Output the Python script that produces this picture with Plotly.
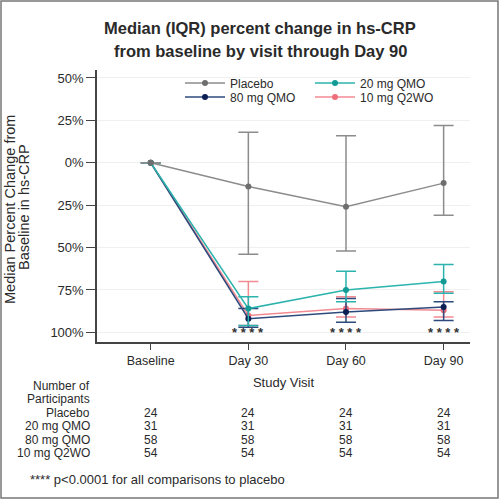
import plotly.graph_objects as go

# visits and groups
visits = ["Baseline", "Day 30", "Day 60", "Day 90"]
groups = ["Placebo", "20 mg QMO", "80 mg QMO", "10 mg Q2WO"]

# median % change in hs-CRP, and the IQR ends
median = {
    "Placebo":    [0, -14, -26, -12],
    "20 mg QMO":  [0, -86, -75, -70],
    "80 mg QMO":  [0, -92, -88, -85],
    "10 mg Q2WO": [0, -90, -86, -87],
}
q3 = {
    "Placebo":    [0, 18, 16, 22],
    "20 mg QMO":  [0, -79, -64, -60],
    "80 mg QMO":  [0, -86, -80, -82],
    "10 mg Q2WO": [0, -70, -79, -76],
}
q1 = {
    "Placebo":    [0, -54, -52, -31],
    "20 mg QMO":  [0, -96, -82, -77],
    "80 mg QMO":  [0, -97, -94, -93],
    "10 mg Q2WO": [0, -96, -91, -91],
}

n_participants = {
    "Placebo":    [24, 24, 24, 24],
    "20 mg QMO":  [31, 31, 31, 31],
    "80 mg QMO":  [58, 58, 58, 58],
    "10 mg Q2WO": [54, 54, 54, 54],
}

ytick_vals = [50, 25, 0, -25, -50, -75, -100]
ytick_text = ["50%", "25%", "0%", "25%", "50%", "75%", "100%"]

line_colors = {"Placebo": "#8c8c8c", "20 mg QMO": "#2bb3ad",
               "80 mg QMO": "#2d4a7c", "10 mg Q2WO": "#f28a92"}
marker_colors = {"Placebo": "#6e6e6e", "20 mg QMO": "#129a94",
                 "80 mg QMO": "#0b1f55", "10 mg Q2WO": "#ee6f7b"}
# one small legend per entry so the 2x2 block can be placed freely
legend_of = {"Placebo": "legend", "20 mg QMO": "legend2",
             "80 mg QMO": "legend3", "10 mg Q2WO": "legend4"}

FONT = "Liberation Sans, Arial, sans-serif"
TXT = "#2a2a2a"
W, H = 500, 500
L, R, T, B = 97, 30, 70, 158
plot_h = H - T - B


def py(pix):
    # pixel row -> paper y
    return (H - B - pix) / plot_h


def px_(pix):
    return (pix - L) / (W - L - R)


xs = list(range(len(visits)))
fig = go.Figure()

for g in ["10 mg Q2WO", "80 mg QMO", "20 mg QMO", "Placebo"]:
    med = median[g]
    fig.add_trace(go.Scatter(
        x=xs, y=med, name=g, mode="lines+markers",
        line=dict(color=line_colors[g], width=1.5),
        marker=dict(color=marker_colors[g], size=6),
        error_y=dict(type="data", symmetric=False,
                     array=[a - m for a, m in zip(q3[g], med)],
                     arrayminus=[m - lo for m, lo in zip(med, q1[g])],
                     color=line_colors[g], thickness=1.5, width=10),
        legend=legend_of[g], showlegend=True,
    ))

# significance stars
for i in xs[1:]:
    fig.add_annotation(x=i, y=-100, text="<b>* * * *</b>", showarrow=False,
                       yanchor="middle", font=dict(size=13, color="#333"))

# title
fig.add_annotation(xref="paper", yref="paper", x=px_(260), y=py(17),
                   text="<b>Median (IQR) percent change in hs-CRP</b>",
                   showarrow=False, xanchor="center",
                   font=dict(size=16.5, color=TXT))
fig.add_annotation(xref="paper", yref="paper", x=px_(260), y=py(40),
                   text="<b>from baseline by visit through Day 90</b>",
                   showarrow=False, xanchor="center",
                   font=dict(size=16.5, color=TXT))

# y axis title, two rotated lines
fig.add_annotation(xref="paper", yref="paper", x=px_(10), y=py(210),
                   text="Median Percent Change from", textangle=-90,
                   showarrow=False, xanchor="center", yanchor="middle",
                   font=dict(size=14.5, color=TXT))
fig.add_annotation(xref="paper", yref="paper", x=px_(24), y=py(207),
                   text="Baseline in hs-CRP", textangle=-90,
                   showarrow=False, xanchor="center", yanchor="middle",
                   font=dict(size=14.5, color=TXT))

# participants table
small = dict(size=12, color=TXT)
fig.add_annotation(xref="paper", yref="paper", x=px_(92), y=py(395),
                   text="Number of", showarrow=False, xanchor="right",
                   font=small)
fig.add_annotation(xref="paper", yref="paper", x=px_(92), y=py(408),
                   text="Participants", showarrow=False, xanchor="right",
                   font=small)
for r, g in enumerate(groups):
    yy = py(422 + r * 13.3)
    fig.add_annotation(xref="paper", yref="paper", x=px_(92), y=yy, text=g,
                       showarrow=False, xanchor="right", font=small)
    for i, n in enumerate(n_participants[g]):
        fig.add_annotation(xref="x", yref="paper", x=i, y=yy, text=str(n),
                           showarrow=False, xanchor="center", font=small)

fig.add_annotation(xref="paper", yref="paper", x=px_(28), y=py(489),
                   text="**** p<0.0001 for all comparisons to placebo",
                   showarrow=False, xanchor="left",
                   font=dict(size=13, color=TXT))

# thin frame round the picture
fig.add_shape(type="rect", xref="paper", yref="paper",
              x0=px_(1), x1=px_(498), y0=py(498), y1=py(1),
              line=dict(color="#777", width=1.5))

leg = dict(xanchor="left", yanchor="middle", bgcolor="rgba(0,0,0,0)",
           font=dict(size=12, color=TXT), itemwidth=40, borderwidth=0)
fig.update_layout(
    width=W, height=H,
    margin=dict(l=L, r=R, t=T, b=B, autoexpand=False),
    paper_bgcolor="white", plot_bgcolor="white",
    font=dict(family=FONT, color=TXT),
    legend=dict(leg, x=px_(180), y=py(83)),
    legend2=dict(leg, x=px_(310), y=py(83)),
    legend3=dict(leg, x=px_(180), y=py(97)),
    legend4=dict(leg, x=px_(310), y=py(97)),
    xaxis=dict(range=[-0.55, 3.27], tickvals=xs, ticktext=visits,
               showgrid=False, zeroline=False, showline=True,
               linecolor="#444", linewidth=1.5, ticks="outside",
               ticklen=6, tickcolor="#444", tickfont=dict(size=12.5),
               automargin=False,
               title=dict(text="Study Visit", font=dict(size=13),
                          standoff=11)),
    yaxis=dict(range=[-105.7, 54.7], tickvals=ytick_vals,
               ticktext=ytick_text, showgrid=True, gridcolor="#f0f0f0",
               zeroline=False, showline=True, linecolor="#444",
               linewidth=1.5, ticks="outside", ticklen=9,
               tickcolor="#444", tickfont=dict(size=13),
               automargin=False),
)

fig.write_html("out.html", config={"displayModeBar": False},
               post_script="document.body.style.margin='0';")
